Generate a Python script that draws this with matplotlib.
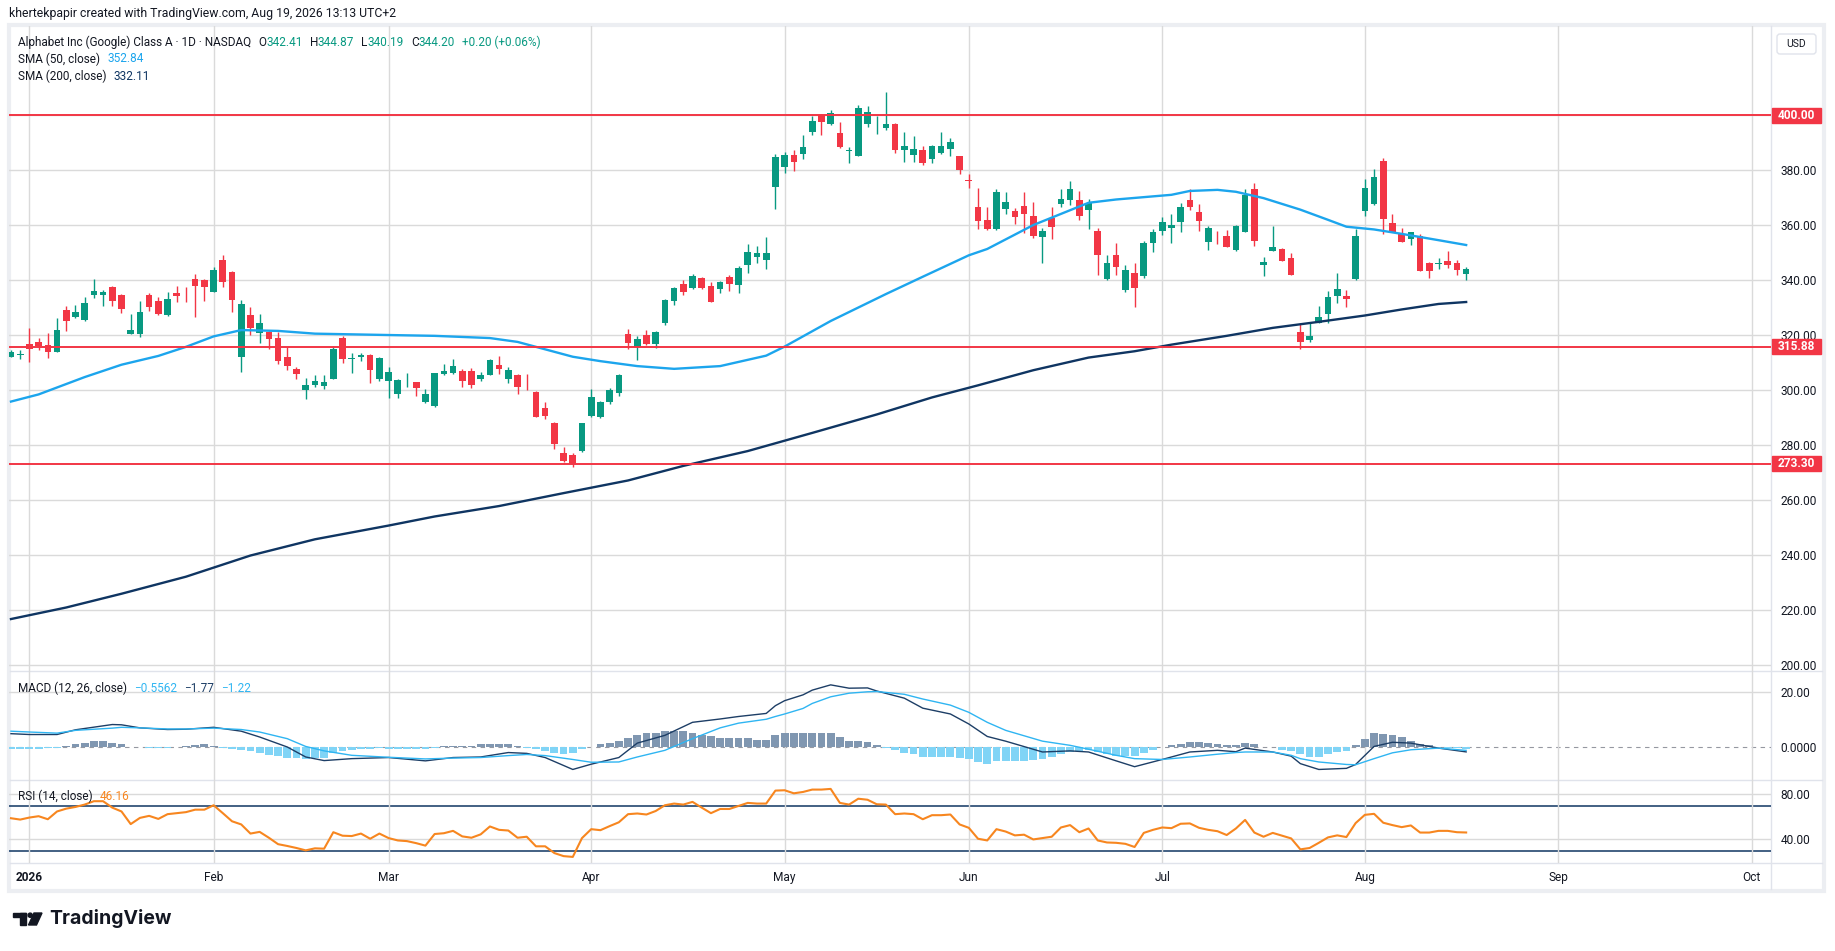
import numpy as np
import matplotlib
matplotlib.use("Agg")
import matplotlib.pyplot as plt
import matplotlib.transforms as mtransforms
from matplotlib.patches import Rectangle, Circle, Polygon, FancyBboxPatch
from matplotlib.lines import Line2D

plt.rcParams['font.family'] = ['Roboto', 'DejaVu Sans']

W, H, DPI = 1835, 951, 100

# daily candles, Dec 30 2025 .. Aug 18 2026 (bar index = trading day)
opens = [312.2, 313.0, 316.7, 317.6, 316.4, 314.1, 329.2, 326.8, 325.6, 334.7,
         334.8, 337.6, 334.7, 320.5, 320.5, 334.7, 332.5, 327.4, 335.5, 336.1,
         340.5, 340.1, 335.9, 347.4, 343.0, 312.2, 327.4, 320.7, 321.3, 319.0,
         312.1, 307.8, 300.0, 302.1, 301.7, 304.2, 319.0, 311.2, 312.0, 313.0,
         304.0, 303.4, 298.5, 303.2, 302.9, 295.9, 294.3, 305.9, 306.4, 307.0,
         307.0, 304.2, 305.7, 309.2, 304.0, 305.6, 302.4, 299.4, 293.5, 288.2,
         277.3, 276.5, 277.9, 290.8, 290.4, 295.8, 298.9, 320.5, 315.9, 320.1,
         317.0, 324.6, 332.6, 338.7, 337.3, 340.8, 337.9, 336.8, 341.2, 338.3,
         345.6, 348.3, 347.5, 374.1, 381.3, 385.6, 385.9, 394.1, 400.2, 396.8,
         393.6, 387.1, 385.3, 396.8, 396.4, 395.5, 396.8, 387.5, 385.7, 387.4,
         384.1, 386.4, 387.8, 385.2, 376.6, 366.7, 361.9, 358.7, 366.1, 365.2,
         367.0, 363.4, 355.9, 362.8, 367.9, 369.2, 369.2, 365.7, 357.9, 340.6,
         349.2, 336.6, 342.7, 341.7, 353.7, 358.1, 359.2, 361.3, 369.2, 364.8,
         354.1, 357.6, 356.1, 351.2, 357.7, 373.1, 345.7, 350.8, 351.4, 348.1,
         321.2, 318.4, 324.6, 327.9, 334.4, 334.3, 340.6, 365.3, 367.9, 383.4,
         360.8, 357.0, 355.2, 356.1, 346.3, 346.0, 347.0, 346.3, 342.41]
highs = [314.8, 314.7, 322.5, 318.9, 320.7, 326.2, 330.7, 331.0, 334.0, 340.5,
         336.5, 337.9, 334.9, 327.8, 332.5, 335.5, 334.1, 335.8, 337.9, 337.7,
         342.3, 340.3, 344.7, 349.2, 343.5, 332.8, 330.4, 327.8, 321.5, 321.3,
         315.9, 308.6, 304.6, 305.6, 305.6, 316.2, 319.8, 313.7, 313.7, 313.2,
         312.2, 308.4, 304.0, 306.2, 303.0, 300.4, 306.3, 309.6, 311.4, 307.7,
         308.0, 306.8, 311.5, 312.5, 308.4, 305.8, 306.0, 299.9, 295.9, 288.4,
         279.5, 277.3, 288.2, 300.6, 296.0, 301.0, 305.8, 322.3, 319.8, 322.0,
         321.6, 333.3, 337.6, 340.1, 342.2, 341.1, 339.5, 339.8, 341.9, 345.2,
         353.3, 352.5, 355.8, 385.9, 386.7, 387.4, 392.8, 399.8, 400.4, 401.9,
         397.6, 388.5, 403.8, 403.3, 399.8, 408.6, 397.3, 393.9, 392.5, 388.8,
         389.2, 393.9, 391.9, 385.3, 378.7, 373.6, 366.7, 373.2, 372.1, 366.4,
         372.1, 368.5, 359.0, 366.7, 373.2, 376.1, 372.5, 369.6, 359.0, 349.2,
         353.5, 345.6, 346.3, 354.2, 358.5, 363.0, 364.1, 368.1, 373.2, 367.8,
         359.8, 357.8, 358.3, 360.1, 373.3, 375.5, 348.5, 359.8, 351.6, 349.8,
         324.4, 324.4, 330.7, 336.0, 342.5, 336.4, 358.8, 376.7, 380.5, 384.5,
         364.1, 359.0, 357.6, 356.8, 346.5, 348.1, 350.7, 347.4, 344.87]
lows = [312.0, 311.5, 310.4, 314.7, 311.9, 314.0, 321.6, 326.2, 325.3, 333.7,
        330.7, 330.7, 328.0, 320.3, 319.5, 329.0, 327.4, 327.2, 332.2, 332.2,
        326.8, 332.5, 335.9, 337.7, 328.6, 306.8, 320.1, 317.3, 314.9, 309.6,
        307.4, 304.0, 296.7, 301.3, 300.4, 304.0, 310.0, 306.2, 310.7, 302.5,
        303.5, 297.1, 297.1, 301.1, 298.0, 295.5, 294.0, 305.6, 305.9, 301.3,
        300.7, 303.5, 305.5, 305.9, 302.5, 298.5, 300.0, 290.3, 289.5, 278.8,
        274.0, 272.0, 277.7, 290.2, 289.8, 295.0, 297.8, 315.0, 311.0, 316.5,
        315.5, 323.8, 331.0, 334.7, 336.8, 336.8, 332.0, 335.4, 336.2, 335.5,
        342.8, 346.4, 344.2, 366.1, 379.2, 379.8, 384.1, 392.8, 392.8, 396.4,
        388.3, 382.7, 385.1, 395.8, 393.2, 394.7, 386.3, 383.0, 383.0, 381.9,
        382.8, 385.9, 385.2, 378.7, 373.6, 358.7, 358.3, 358.3, 364.2, 360.5,
        357.3, 355.5, 346.4, 355.2, 366.8, 367.4, 361.9, 358.8, 342.1, 340.1,
        342.1, 335.8, 330.4, 341.0, 350.3, 356.5, 353.7, 357.7, 365.7, 358.1,
        351.2, 353.1, 352.0, 350.8, 357.5, 352.5, 341.7, 350.6, 347.0, 342.0,
        315.2, 317.7, 324.4, 324.6, 331.9, 330.4, 340.1, 363.4, 367.3, 356.8,
        357.5, 353.9, 352.8, 343.3, 341.0, 344.0, 344.6, 342.1, 340.19]
closes = [313.8, 313.2, 315.2, 316.1, 314.1, 321.9, 325.3, 328.5, 331.8, 336.1,
          335.8, 332.6, 329.7, 321.9, 328.5, 330.4, 327.8, 333.2, 334.3, 336.0,
          338.1, 337.7, 343.8, 339.5, 332.8, 331.4, 322.5, 324.6, 318.5, 310.8,
          309.0, 305.8, 301.9, 303.4, 303.0, 315.0, 311.3, 311.8, 313.0, 307.2,
          311.9, 306.5, 303.6, 303.4, 300.7, 298.7, 306.2, 307.0, 308.8, 303.5,
          302.1, 305.6, 311.0, 307.6, 307.4, 301.1, 302.2, 290.4, 290.7, 280.5,
          274.1, 273.2, 288.0, 297.7, 295.9, 300.0, 305.6, 317.3, 318.7, 316.8,
          321.2, 332.8, 337.2, 335.9, 341.6, 337.3, 332.2, 339.4, 338.7, 344.5,
          350.3, 350.0, 350.0, 384.8, 385.6, 383.0, 388.5, 397.9, 397.7, 400.8,
          388.5, 387.3, 402.7, 401.2, 396.6, 396.8, 387.5, 388.8, 387.8, 382.7,
          388.8, 388.8, 390.3, 380.2, 376.3, 361.7, 358.7, 372.1, 368.5, 363.2,
          364.2, 356.2, 357.9, 359.5, 369.6, 373.2, 363.5, 368.0, 349.3, 346.3,
          345.0, 343.8, 337.3, 353.6, 357.6, 361.2, 360.1, 366.7, 366.8, 361.7,
          359.0, 357.5, 352.2, 359.8, 371.0, 354.4, 346.5, 352.1, 347.2, 342.1,
          317.7, 319.8, 326.5, 333.8, 336.8, 333.3, 356.1, 373.6, 377.6, 362.4,
          357.7, 354.1, 357.6, 343.5, 343.5, 346.4, 345.6, 343.9, 344.20]

# moving averages, read at sampled bars
sma50_idx = [0, 3, 8, 12, 16, 19, 22, 25, 29, 33, 41, 46, 52, 55, 58, 61, 64, 68, 72, 77,
             82, 84, 89, 95, 99, 104, 106, 111, 115, 117, 120, 126, 128, 131, 133, 136, 140,
             143, 145, 148, 151, 155, 158]
sma50_val = [295.9, 298.5, 304.8, 309.3, 312.5, 315.8, 319.6, 321.9, 321.6, 320.6, 320.1,
             319.8, 319.0, 317.6, 314.9, 312.2, 310.6, 308.8, 307.8, 308.8, 312.6, 315.9,
             325.2, 335.0, 341.3, 349.1, 351.4, 360.1, 365.5, 368.2, 369.4, 371.1, 372.5,
             372.9, 372.2, 369.9, 365.7, 362.0, 359.5, 358.5, 356.9, 354.6, 352.84]
sma200_idx = [0, 6, 12, 19, 26, 33, 41, 46, 53, 60, 67, 73, 80, 87, 94, 100, 105, 111, 117,
              122, 126, 132, 137, 142, 147, 151, 155, 158]
sma200_val = [216.8, 221.0, 226.0, 232.2, 239.9, 245.8, 250.8, 254.1, 257.9, 262.6, 267.2,
              272.5, 277.9, 284.5, 291.2, 297.4, 301.8, 307.3, 311.9, 314.2, 316.6, 319.8,
              322.7, 324.9, 327.2, 329.4, 331.4, 332.11]

levels = [400.00, 315.88, 273.30]

# MACD (12, 26): lines read at sampled bars, histogram per bar
macd_idx = [0, 2, 5, 7, 11, 12, 14, 17, 19, 22, 25, 27, 30, 32, 34, 37, 41, 45, 48, 51,
            54, 56, 58, 61, 63, 66, 68, 71, 74, 77, 79, 82, 83, 84, 86, 87, 89, 91, 93, 94,
            97, 99, 102, 104, 106, 108, 112, 115, 117, 120, 122, 125, 128, 131, 133, 134,
            137, 139, 140, 142, 145, 146, 148, 150, 152, 155, 158]
macd_val = [4.8, 4.5, 4.5, 6.2, 8.1, 8.0, 6.9, 6.3, 6.4, 7.1, 5.7, 3.6, 0.0, -3.6, -4.9,
            -4.2, -3.8, -5.0, -3.8, -3.6, -2.0, -2.3, -3.8, -8.1, -6.2, -3.8, 1.4, 4.2, 8.9,
            10.1, 11.0, 12.1, 14.9, 16.7, 18.8, 20.5, 22.4, 21.2, 21.3, 20.2, 17.6, 14.0,
            11.9, 8.3, 3.8, 2.1, -1.8, -1.4, -1.8, -5.0, -7.1, -4.5, -1.8, -1.2, -1.7, -0.4,
            -1.8, -3.3, -6.0, -8.1, -7.7, -6.3, 0.2, 1.7, 1.4, -0.4, -1.77]
signal_val = [5.7, 5.4, 5.0, 6.0, 6.8, 7.1, 6.9, 6.5, 6.5, 6.8, 6.3, 5.4, 3.0, 0.2, -1.4,
              -3.0, -3.7, -4.3, -4.0, -3.8, -3.1, -2.7, -3.1, -4.5, -5.5, -5.4, -3.6, -1.2,
              3.0, 6.9, 8.6, 10.0, 11.0, 11.9, 13.9, 15.7, 18.1, 19.4, 19.9, 20.0, 19.0,
              17.3, 15.1, 12.5, 8.9, 6.0, 2.1, 0.6, -0.8, -3.0, -4.2, -4.5, -3.6, -2.6,
              -2.0, -1.8, -1.8, -3.0, -4.2, -5.4, -6.3, -6.4, -4.2, -2.1, -1.0, -0.4, -1.22]
hist = [-0.7, -0.7, -0.7, -0.6, -0.5, -0.3, 0.3, 0.9, 1.3, 2.0, 2.0, 1.5, 1.2,
        0.1, -0.1, -0.2, -0.2, -0.2, -0.1, 0.3, 0.6, 0.9, 0.4,
        -0.3, -0.6, -1.1, -1.6, -2.1, -2.8, -3.4, -3.9, -4.1, -4.3, -4.1, -3.9,
        -2.0, -1.4, -1.0, -0.6, -0.6, -0.5, -0.6, -0.6, -0.6, -0.6, -0.6, -0.5,
        0.2, 0.4, 0.5, 0.5, 1.0, 1.2, 1.2, 1.0, 0.5,
        -0.3, -0.9, -1.6, -2.2, -2.7, -2.2, -0.8,
        0.1, 0.9, 1.6, 2.3, 3.2, 4.3, 5.1, 5.1, 5.6, 5.6, 5.6, 5.0, 4.4, 3.8, 3.2, 3.2, 3.1,
        3.1, 2.6, 2.4, 4.2, 5.2, 5.2, 5.2, 5.2, 5.2, 4.9, 3.5, 2.0, 2.0, 1.7, 0.6,
        -0.3, -1.2, -2.2, -2.6, -3.6, -3.6, -3.6, -3.7, -4.0, -4.3, -5.5, -6.2, -5.2, -5.0,
        -5.0, -4.9, -4.8, -4.4, -3.6, -2.6, -1.7, -1.5, -1.2, -1.9, -2.5, -3.2, -3.2, -3.2,
        -2.2, -1.0, 0.1,
        0.6, 1.0, 1.9, 1.9, 1.5, 1.2, 0.8, 0.8, 1.5, 1.2, 0.1, -0.1,
        -1.0, -1.5, -2.4, -3.5, -3.6, -2.7, -1.9, -1.3,
        0.8, 3.0, 4.9, 4.8, 4.2, 3.5, 2.0, 1.1, 0.6, -0.1, -0.2, -0.5, -0.5562]

# RSI (14) per bar
rsi = [58.8, 57.6, 59.4, 60.6, 57.9, 64.8, 67.3, 68.8, 70.9, 73.9,
       73.9, 68.2, 64.8, 53.6, 59.1, 60.9, 58.2, 62.4, 63.3, 64.2,
       66.4, 66.4, 70.3, 63.3, 56.1, 53.3, 45.2, 46.7, 41.5, 35.8,
       34.2, 32.4, 30.3, 32.1, 31.8, 46.4, 43.3, 43.0, 45.2, 40.6,
       45.2, 41.2, 39.1, 38.5, 36.7, 34.5, 44.8, 45.5, 47.6, 42.7,
       41.5, 44.5, 51.5, 48.5, 47.9, 41.5, 42.4, 33.9, 33.9, 27.9,
       25.2, 24.5, 41.2, 49.1, 48.2, 51.8, 55.2, 62.4, 63.0, 62.1,
       65.2, 70.3, 71.8, 70.9, 73.3, 68.2, 63.3, 67.0, 67.0, 69.7,
       72.4, 71.8, 71.8, 83.3, 83.6, 80.9, 82.1, 84.2, 84.2, 84.8,
       72.4, 70.9, 76.1, 75.2, 71.2, 70.9, 62.4, 63.0, 62.4, 57.9,
       61.5, 61.5, 62.1, 53.3, 50.3, 40.6, 39.1, 49.1, 47.0, 43.6,
       44.2, 40.0, 41.2, 42.4, 50.6, 52.7, 46.4, 49.7, 39.1, 37.3,
       37.0, 36.1, 33.3, 45.8, 48.5, 50.6, 50.0, 53.9, 54.2, 50.3,
       48.5, 47.3, 43.9, 49.7, 57.3, 46.1, 42.4, 45.8, 43.3, 40.9,
       31.2, 32.4, 37.0, 41.8, 43.6, 42.1, 54.5, 61.8, 62.7, 54.8,
       52.7, 50.9, 52.4, 46.1, 46.1, 47.6, 47.6, 46.4, 46.16]

month_pos = [2, 22, 41, 63, 84, 104, 125, 147, 168, 189]
month_labels = ["2026", "Feb", "Mar", "Apr", "May", "Jun", "Jul", "Aug", "Sep", "Oct"]
price_ticks = [200, 220, 240, 260, 280, 300, 320, 340, 360, 380]

UP, DOWN = "#089981", "#f23645"
SMA50_C, SMA200_C = "#1ca5ed", "#0f3562"
MACD_C, SIGNAL_C = "#1d3e66", "#2fb5f2"
HPOS, HNEG = "#8097b1", "#80d4f6"
RSI_C = "#f7861f"
GRID = "#dadada"
TXT = "#131722"

fig = plt.figure(figsize=(W / DPI, H / DPI), dpi=DPI)
fig.patch.set_facecolor("white")

# background layer in pixel coordinates (frame, separators, footer)
bg = fig.add_axes([0, 0, 1, 1], zorder=0)
bg.set_xlim(0, W)
bg.set_ylim(H, 0)
bg.axis("off")

L, R = 9, 1771
panels = [(26, 671), (671, 780), (780, 863)]
axes = []
for top, bot in panels:
    a = fig.add_axes([L / W, 1 - bot / H, (R - L) / W, (bot - top) / H], zorder=1)
    a.set_facecolor("none")
    axes.append(a)
ax_p, ax_m, ax_r = axes

# text layer on top of everything
fg = fig.add_axes([0, 0, 1, 1], zorder=10)
fg.set_xlim(0, W)
fg.set_ylim(H, 0)
fg.axis("off")

x = np.arange(len(closes))
o, h, l, c = map(np.array, (opens, highs, lows, closes))
up = c >= o
cols = np.where(up, UP, DOWN)

for a in axes:
    for s in a.spines.values():
        s.set_visible(False)
    a.set_xlim(-0.215, 191.1)
    a.set_xticks(month_pos)
    a.grid(axis="x", color=GRID, lw=1)
    a.yaxis.tick_right()
    a.tick_params(axis="both", length=0, labelsize=8.6, labelcolor=TXT)
    a.tick_params(axis="y", pad=7)

# price panel
ax_p.set_ylim(197.9, 432.5)
for v in price_ticks + [400]:
    ax_p.axhline(v, color=GRID, lw=1, zorder=0)
ax_p.set_yticks(price_ticks)
ax_p.set_yticklabels([f"{v:.2f}" for v in price_ticks])
ax_p.tick_params(axis="x", labelbottom=False)

ax_p.vlines(x, l, h, colors=cols, lw=1, zorder=3)
body = np.maximum(np.abs(c - o), 0.25)
ax_p.bar(x, body, bottom=np.minimum(o, c), width=0.72, color=cols, zorder=4)

ax_p.plot(sma50_idx, sma50_val, color=SMA50_C, lw=1.7, zorder=5)
ax_p.plot(sma200_idx, sma200_val, color=SMA200_C, lw=1.7, zorder=5)

bt = mtransforms.blended_transform_factory(fig.transFigure, ax_p.transData)
ppu = (671 - 26) / (432.5 - 197.9)
for v in levels:
    ax_p.axhline(v, color=DOWN, lw=1.4, zorder=6)
    hh = 15 / ppu
    ax_p.add_patch(Rectangle((1772 / W, v - hh / 2), 49 / W, hh, transform=bt,
                             color=DOWN, clip_on=False, zorder=7))
    ax_p.text(1796.5 / W, v, f"{v:.2f}", transform=bt, color="white", fontsize=8.6,
              fontweight="bold", ha="center", va="center", zorder=8, clip_on=False)

# MACD panel
ax_m.set_ylim(-11.9, 27.4)
ax_m.axhline(20, color=GRID, lw=1, zorder=0)
ax_m.axhline(0, color="#9598a1", lw=0.8, ls=(0, (4, 4)), zorder=1)
ax_m.set_yticks([20, 0])
ax_m.set_yticklabels(["20.00", "0.0000"])
ax_m.tick_params(axis="x", labelbottom=False)
hcol = [HPOS if v >= 0 else HNEG for v in hist]
ax_m.bar(np.arange(len(hist)), hist, width=0.85, color=hcol, zorder=2)
ax_m.plot(macd_idx, macd_val, color=MACD_C, lw=1.0, zorder=3)
ax_m.plot(macd_idx, signal_val, color=SIGNAL_C, lw=1.0, zorder=3)

# RSI panel
ax_r.set_ylim(19.1, 92.7)
for v in (80, 40):
    ax_r.axhline(v, color=GRID, lw=1, zorder=0)
for v in (70, 30):
    ax_r.axhline(v, color=SMA200_C, lw=1.1, zorder=1)
ax_r.set_yticks([80, 40])
ax_r.set_yticklabels(["80.00", "40.00"])
ax_r.plot(np.arange(len(rsi)), rsi, color=RSI_C, lw=1.5, zorder=3)
ax_r.set_xticklabels(month_labels)
ax_r.tick_params(axis="x", pad=6, labelsize=8.6)
ax_r.get_xticklabels()[0].set_fontweight("bold")

# frame, separators
bg.add_patch(Rectangle((8.5, 25), 1815, 866, fill=False, ec="#eceef2", lw=3))
for yy in (671, 780, 863):
    bg.add_line(Line2D([10, 1822], [yy, yy], color="#e0e3eb", lw=1))
bg.add_line(Line2D([R, R], [26, 889], color="#e0e3eb", lw=1))
fg.add_patch(FancyBboxPatch((1777, 34), 39, 20, boxstyle="round,pad=0,rounding_size=3",
                            fc="white", ec="#e0e3eb", lw=1))
fg.text(1796.5, 44, "USD", fontsize=7.5, color=TXT, ha="center", va="center")

# footer logo
bg.add_patch(Rectangle((12.5, 913), 13, 4, color=TXT))
bg.add_patch(Rectangle((20, 913), 5.5, 12, color=TXT))
bg.add_patch(Circle((30.2, 915.2), 2.1, color=TXT))
bg.add_patch(Polygon([(34, 913), (42, 913), (36.5, 925), (28.5, 925)], color=TXT))
bg.text(49, 919, "TradingView", fontsize=14, fontweight="bold", color=TXT,
        ha="left", va="center", family=["Inter", "DejaVu Sans"])

renderer = fig.canvas.get_renderer()


def segments(x0, y0, parts, size=8.8):
    xx = x0
    for gap, txt, col in parts:
        xx += gap
        t = fg.text(xx, y0, txt, fontsize=size, color=col, ha="left", va="center")
        xx += t.get_window_extent(renderer=renderer).width


segments(9, 14, [(0, "khertekpapir created with TradingView.com, Aug 19, 2026 13:13 UTC+2", TXT)])
segments(18, 42, [(0, "Alphabet Inc (Google) Class A · 1D · NASDAQ", TXT),
                  (7, "O", TXT), (0, "342.41", UP), (7, "H", TXT), (0, "344.87", UP),
                  (7, "L", TXT), (0, "340.19", UP), (7, "C", TXT), (0, "344.20", UP),
                  (7, "+0.20 (+0.06%)", UP)], size=8.5)
segments(18, 59, [(0, "SMA (50, close)", TXT), (7, "352.84", SMA50_C)], size=8.5)
segments(18, 76, [(0, "SMA (200, close)", TXT), (7, "332.11", SMA200_C)], size=8.5)
segments(18, 688, [(0, "MACD (12, 26, close)", TXT), (7, "\u22120.5562", SIGNAL_C),
                   (7, "\u22121.77", MACD_C), (7, "\u22121.22", SIGNAL_C)], size=8.5)
segments(18, 796, [(0, "RSI (14, close)", TXT), (7, "46.16", RSI_C)], size=8.5)

fig.savefig("out.png", dpi=DPI, facecolor="white")
